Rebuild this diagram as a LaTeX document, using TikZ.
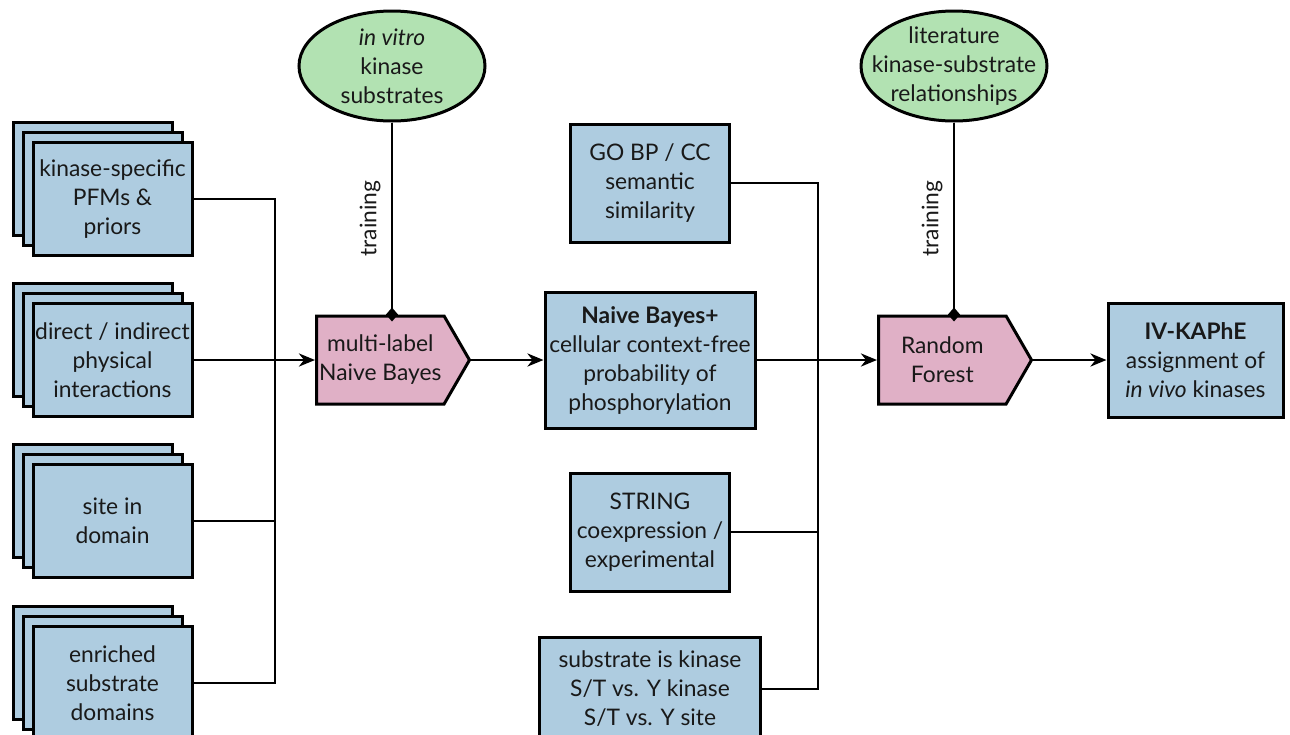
\documentclass[tikz,border=0pt]{standalone}
\usepackage{fontspec}
\setmainfont{Lato}
\usetikzlibrary{arrows.meta,shapes.geometric,shapes.symbols,positioning}
\definecolor{boxblue}{RGB}{174,204,224}
\definecolor{modelpink}{RGB}{224,176,198}
\definecolor{priorgreen}{RGB}{178,226,178}
\tikzset{
  feat/.style={draw, line width=1.5pt, fill=boxblue, align=center, inner sep=1pt},
  srcbox/.style={feat, minimum width=79.5pt, minimum height=56.5pt},
  model/.style={signal, signal to=east, signal pointer angle=120, draw, line width=1.5pt,
    fill=modelpink, align=center, inner sep=1pt, minimum width=76.5pt, minimum height=44pt},
  prior/.style={ellipse, draw, line width=1.5pt, fill=priorgreen, align=center,
    minimum width=93pt, minimum height=55pt, inner xsep=-12pt, inner ysep=-4pt},
  link/.style={line width=1.4pt},
  arr/.style={link, -{Stealth[length=8pt,width=6.5pt,inset=2.5pt]}},
  train/.style={link, -{Diamond[length=7pt,width=6pt]}, shorten >=-3.5pt},
}

\begin{document}
\begin{tikzpicture}[x=0.5pt, y=-0.5pt, font=\fontsize{11.4}{14.5}\selectfont, text=black!90]
  \useasboundingbox (0,0) rectangle (1290,734);
  \foreach \n/\y/\txt in {pfm/199/{kinase-specific\\PFMs \&\\priors},
      ppi/360/{direct / indirect\\physical\\interactions},
      site/521/{site in\\domain},
      dom/683/{enriched\\substrate\\domains}} {
    \node[srcbox] at (92.5,\y-20) {};
    \node[srcbox] at (102.5,\y-10) {};
    \node[srcbox] (\n) at (112.5,\y) {\txt};
  }
  \coordinate (jl) at (275,360);
  \node[model, anchor=west] (mlnb) at (315,360) {multi-label\\Naive Bayes};
  \node[prior] (ivs) at (392,66) {\textit{in vitro}\\kinase\\substrates};
  \node[feat, minimum width=105pt, minimum height=68pt] (nbp) at (650,360)
    {\textbf{Naive Bayes+}\\cellular context-free\\probability of\\phosphorylation};
  \node[feat, minimum width=79.5pt, minimum height=59pt] (go) at (650,183) {GO BP / CC\\semantic\\similarity};
  \node[feat, minimum width=79.5pt, minimum height=59pt] (str) at (650,532) {STRING\\coexpression /\\experimental};
  \node[feat, minimum width=110.5pt, minimum height=52pt] (sub) at (650,689)
    {substrate is kinase\\S/T vs. Y kinase\\S/T vs. Y site};
  \coordinate (jr) at (818,360);
  \node[model, anchor=west] (rf) at (877,360) {Random\\Forest};
  \node[prior] (lit) at (954,66) {literature\\kinase-substrate\\relationships};
  \node[feat, minimum width=87.5pt, minimum height=57pt] (ivk) at (1195.5,360)
    {\textbf{IV-KAPhE}\\assignment of\\\textit{in vivo} kinases};

  \draw[link] (pfm.east) -| (jl);
  \draw[link] (site.east) -| (jl);
  \draw[link] (dom.east) -| (jl);
  \draw[arr] (ppi.east) -- (mlnb.west);
  \draw[train] (ivs.south) -- node[midway, above, rotate=90, inner sep=5pt] {training} (ivs.south |- mlnb.north);
  \draw[arr] (mlnb.east) -- (nbp.west);
  \draw[link] (go.east) -| (jr);
  \draw[link] (str.east) -| (jr);
  \draw[link] (sub.east) -| (jr);
  \draw[arr] (nbp.east) -- (rf.west);
  \draw[train] (lit.south) -- node[midway, above, rotate=90, inner sep=5pt] {training} (lit.south |- rf.north);
  \draw[arr] (rf.east) -- (ivk.west);
\end{tikzpicture}
\end{document}
